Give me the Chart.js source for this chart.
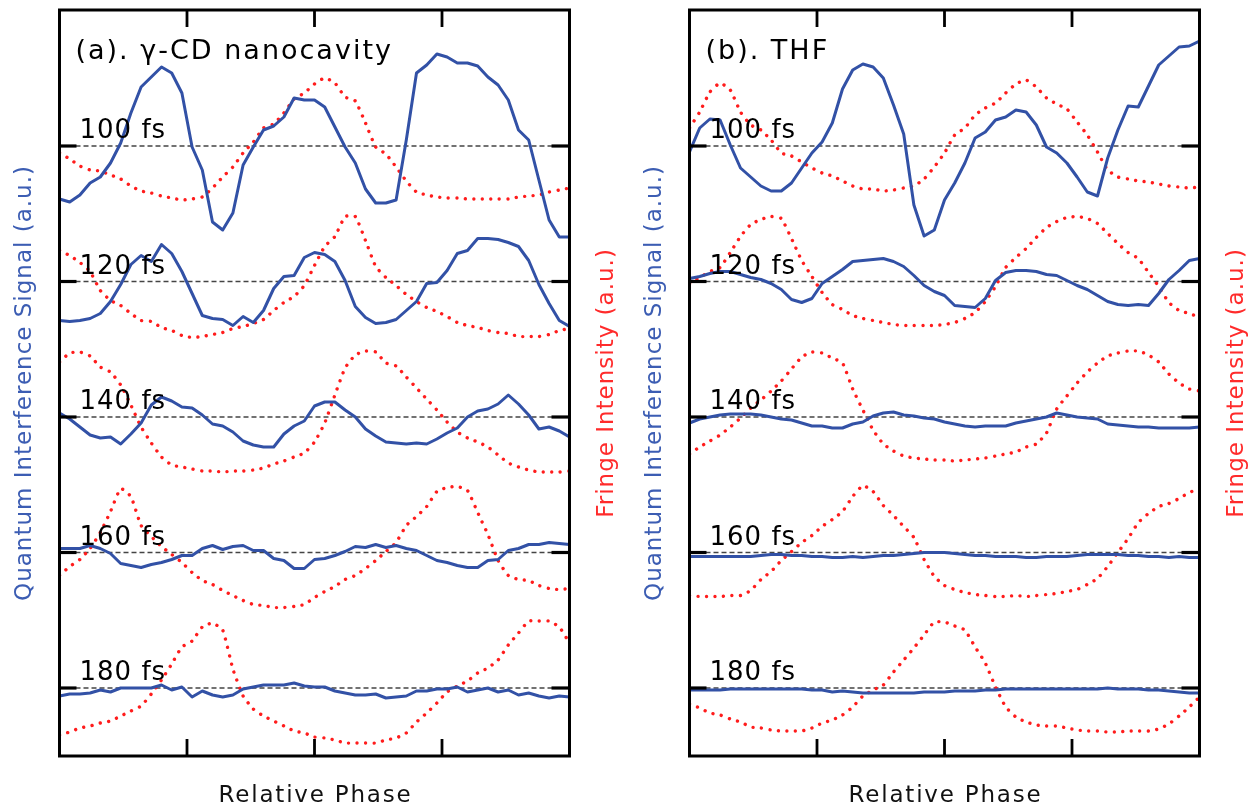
<!DOCTYPE html>
<html><head><meta charset="utf-8">
<script src="https://cdn.jsdelivr.net/npm/chart.js@4.4.1/dist/chart.umd.min.js"></script>
<style>
html,body{margin:0;padding:0;background:#fff;width:1260px;height:809px;overflow:hidden}
canvas{position:absolute;top:0}
#cA{left:0}
#cB{left:630px}
</style></head><body>
<canvas id="cA" width="630" height="809"></canvas>
<canvas id="cB" width="630" height="809"></canvas>
<script>
// Relative phase grid (arbitrary units, 0..100)
const phase = [0,2,4,6,8,10,12,14,16,18,20,22,24,26,28,30,32,34,36,38,40,42,44,46,48,50,52,54,56,58,60,62,64,66,68,70,72,74,76,78,80,82,84,86,88,90,92,94,96,98,100];
const delays = ['100 fs','120 fs','140 fs','160 fs','180 fs'];
// vertical offset of each delay trace (a.u.)
const baseLevels = [610, 474.5, 339, 203.5, 68];
const phaseTicks = [25, 50, 75];

// (a) gamma-CD nanocavity: quantum interference signal (blue) and fringe intensity (red), deviation from baseline
const cdBlue100 = [-53,-56,-49,-37,-31,-17,3,33,59,69,79,73,53,-1,-24,-76,-84,-67,-19,-1,16,20,29,48,46,46,39,19,-1,-17,-43,-57,-57,-54,6,73,81,92,89,83,83,80,69,61,46,16,6,-34,-74,-91,-91];
const cdRed100 = [-7,-13,-20,-24,-25,-29,-33,-40,-45,-47,-50,-52,-54,-53,-51,-42,-31,-21,-7,4,18,22,33,47,53,62,68,63,49,45,23,-1,-8,-21,-35,-46,-49,-51,-52,-52,-53,-53,-53,-53,-53,-51,-50,-49,-46,-44,-42];
const cdBlue120 = [-39,-40,-39,-37,-32,-20,-3,17,26,20,37,28,10,-12,-34,-37,-38,-44,-35,-41,-29,-7,5,6,24,29,27,20,1,-25,-36,-42,-41,-38,-29,-20,-2,-1,11,28,31,43,43,42,39,35,21,-3,-22,-39,-45];
const cdRed120 = [31,26,19,10,-9,-19,-24,-32,-39,-40,-46,-49,-54,-56,-55,-53,-51,-47,-45,-42,-38,-29,-21,-15,-4,16,35,45,65,65,41,15,4,-4,-13,-20,-26,-30,-35,-41,-44,-46,-49,-51,-52,-55,-55,-55,-53,-49,-47];
const cdBlue140 = [4,-2,-10,-18,-21,-20,-27,-17,-6,12,20,16,10,9,2,-7,-9,-15,-24,-28,-30,-30,-17,-9,-4,11,15,15,7,0,-12,-19,-25,-26,-27,-26,-27,-22,-16,-11,0,6,8,13,22,13,2,-12,-10,-14,-20];
const cdRed140 = [55,64,65,61,50,45,32,12,-10,-26,-40,-48,-50,-52,-54,-54,-55,-54,-54,-53,-51,-47,-44,-40,-36,-25,-6,22,49,62,66,65,54,51,40,29,18,7,-5,-15,-21,-25,-30,-38,-46,-50,-53,-55,-55,-55,-54];
const cdBlue160 = [4,4,4,7,4,-1,-11,-13,-15,-12,-10,-7,-3,-3,4,7,3,6,7,2,2,-6,-8,-16,-16,-7,-6,-3,1,6,5,8,5,7,4,2,-3,-8,-10,-13,-15,-15,-8,-7,2,4,8,8,10,9,8];
const cdRed160 = [-23,-14,-7,4,20,41,64,56,27,16,6,-2,-10,-20,-28,-32,-38,-43,-48,-52,-53,-55,-55,-54,-52,-45,-39,-34,-27,-23,-16,-8,1,10,27,36,46,61,65,66,62,40,18,-8,-23,-27,-28,-33,-36,-37,-36];
const cdBlue180 = [-8,-6,-6,-5,-2,-4,0,0,0,0,3,-2,1,-9,-3,-7,-9,-7,-1,1,3,3,3,5,2,1,1,-3,-5,-7,-7,-6,-10,-9,-8,-3,-3,-1,-1,1,-4,-2,0,-4,-2,-7,-5,-8,-10,-8,-9];
const cdRed180 = [-47,-44,-40,-38,-35,-33,-28,-23,-18,-6,8,24,41,47,61,65,58,19,-8,-21,-28,-33,-38,-43,-45,-49,-50,-52,-55,-55,-55,-55,-52,-50,-45,-34,-25,-15,-4,2,7,15,20,28,43,55,67,67,67,61,45];

// (b) THF
const thfBlue100 = [-6,18,27,26,1,-22,-31,-40,-45,-45,-37,-22,-7,4,23,57,76,82,79,68,41,12,-59,-90,-84,-54,-37,-17,8,14,26,29,36,34,21,-1,-7,-17,-31,-46,-50,-12,16,40,39,60,81,90,99,100,105];
const thfRed100 = [18,34,54,63,56,34,21,16,6,-7,-10,-16,-22,-27,-30,-35,-40,-43,-43,-45,-44,-42,-40,-33,-21,-7,11,18,31,38,43,53,62,66,59,48,42,37,24,11,-6,-24,-31,-33,-35,-36,-38,-40,-41,-42,-41];
const thfBlue120 = [3,5,8,10,10,7,4,2,-2,-8,-18,-21,-17,-2,5,12,20,21,22,23,20,15,6,-4,-10,-14,-24,-25,-26,-17,1,9,11,11,10,7,6,1,-4,-8,-14,-20,-23,-24,-23,-24,-12,2,11,21,23];
const thfRed120 = [-2,4,10,14,29,45,57,62,65,63,43,21,5,-11,-23,-28,-34,-37,-39,-41,-43,-44,-44,-44,-44,-43,-41,-37,-31,-20,-5,14,24,33,44,54,60,64,65,63,58,48,38,29,23,9,-5,-21,-29,-32,-36];
const thfBlue140 = [-6,-2,0,2,3,3,3,2,0,-2,-3,-6,-9,-9,-11,-11,-7,-5,1,4,5,2,1,-1,-2,-5,-7,-9,-10,-9,-9,-9,-6,-4,-2,0,4,2,0,-1,-2,-7,-8,-9,-10,-10,-11,-11,-11,-11,-10];
const thfRed140 = [-37,-30,-24,-18,-10,-1,9,17,26,36,48,60,65,64,59,54,28,7,-13,-27,-34,-39,-41,-42,-43,-43,-44,-43,-42,-41,-39,-37,-35,-30,-27,-16,8,21,34,45,54,61,64,66,66,62,55,43,34,28,26];
const thfBlue160 = [-4,-4,-4,-4,-4,-4,-4,-3,-2,-2,-3,-3,-4,-4,-5,-5,-4,-5,-4,-3,-3,-2,-1,0,0,0,-1,-2,-3,-3,-4,-4,-4,-5,-5,-4,-4,-4,-3,-2,-2,-2,-2,-3,-3,-4,-4,-5,-4,-5,-5];
const thfRed160 = [-43,-44,-44,-44,-43,-43,-38,-27,-19,-8,1,10,17,26,33,41,56,67,61,47,37,26,15,-7,-24,-33,-37,-40,-42,-43,-44,-44,-43,-44,-43,-42,-41,-39,-37,-32,-26,-14,0,14,30,39,46,49,54,60,64];
const thfBlue180 = [-2,-2,-2,-2,-1,-1,-1,-1,-1,-1,-1,-1,-2,-2,-4,-3,-4,-5,-5,-5,-5,-5,-5,-4,-4,-4,-3,-3,-3,-2,-2,-1,-1,-1,-1,-1,-1,-1,-1,-1,-1,0,-1,-1,-1,-2,-2,-3,-4,-5,-5];
const thfRed180 = [-16,-20,-25,-27,-31,-34,-39,-40,-42,-43,-43,-43,-40,-35,-32,-27,-19,-8,-2,3,16,28,40,53,66,66,62,58,41,25,1,-19,-29,-34,-37,-38,-38,-40,-42,-43,-43,-44,-44,-43,-43,-43,-41,-36,-28,-19,-9];

const BLUE = '#3251a6';
const RED = '#ff1c1c';

function buildDatasets(blues, reds) {
  const ds = [];
  baseLevels.forEach((b, i) => {
    ds.push({
      data: [{x: phase[0], y: b}, {x: phase[phase.length - 1], y: b}],
      borderColor: '#444', borderWidth: 1.4, borderDash: [5, 3],
      pointRadius: 0, order: 3
    });
    ds.push({
      data: phase.map((p, k) => ({x: p, y: b + reds[i][k]})),
      borderColor: RED, borderWidth: 3.4, borderDash: [0.01, 8.5], borderCapStyle: 'round',
      pointRadius: 0, tension: 0.15, order: 2
    });
    ds.push({
      data: phase.map((p, k) => ({x: p, y: b + blues[i][k]})),
      borderColor: BLUE, borderWidth: 3, borderJoinStyle: 'round',
      pointRadius: 0, tension: 0, order: 1
    });
  });
  return ds;
}

function decorPlugin(panelTitle) {
  return {
    id: 'decor',
    afterDatasetsDraw(chart) {
      const {ctx, chartArea: a, scales: {x, y}} = chart;
      ctx.save();
      const seg = (x1, y1, x2, y2) => { ctx.beginPath(); ctx.moveTo(x1, y1); ctx.lineTo(x2, y2); ctx.stroke(); };
      ctx.strokeStyle = '#000';
      ctx.lineCap = 'butt';
      ctx.lineWidth = 2.8;
      phaseTicks.forEach(v => {
        const px = x.getPixelForValue(v);
        seg(px, a.bottom, px, a.bottom - 17);
        seg(px, a.top, px, a.top + 17);
      });
      ctx.lineWidth = 3.2;
      baseLevels.forEach(v => {
        const py = y.getPixelForValue(v);
        seg(a.left, py, a.left + 17, py);
        seg(a.right, py, a.right - 18, py);
      });
      ctx.lineWidth = 3;
      ctx.strokeRect(a.left, a.top, a.right - a.left, a.bottom - a.top);

      ctx.fillStyle = '#000';
      ctx.textAlign = 'left';
      ctx.textBaseline = 'alphabetic';
      ctx.font = '27px "DejaVu Sans"';
      ctx.letterSpacing = '2px';
      ctx.fillText(panelTitle, a.left + 16, a.top + 49);

      ctx.font = '26px "DejaVu Sans"';
      ctx.letterSpacing = '1px';
      baseLevels.forEach((v, i) => {
        ctx.fillText(delays[i], a.left + 20, y.getPixelForValue(v) - 8);
      });

      ctx.font = '23px "DejaVu Sans"';
      ctx.letterSpacing = '1.8px';
      ctx.textAlign = 'center';
      ctx.fillStyle = '#111';
      ctx.fillText('Relative Phase', (a.left + a.right) / 2 + 1, 802);

      const cy = (a.top + a.bottom) / 2;
      ctx.letterSpacing = '1px';
      ctx.textBaseline = 'middle';
      ctx.save();
      ctx.translate(a.left - 34, cy);
      ctx.rotate(-Math.PI / 2);
      ctx.fillStyle = '#3c5db3';
      ctx.fillText('Quantum Interference Signal (a.u.)', 0, 0);
      ctx.restore();
      ctx.save();
      ctx.translate(a.right + 38, cy);
      ctx.rotate(-Math.PI / 2);
      ctx.fillStyle = '#ff2b2b';
      ctx.fillText('Fringe Intensity (a.u.)', 0, 0);
      ctx.restore();
      ctx.restore();
    }
  };
}

function makeChart(id, title, blues, reds) {
  return new Chart(document.getElementById(id), {
    type: 'line',
    data: {datasets: buildDatasets(blues, reds)},
    options: {
      responsive: false,
      devicePixelRatio: 1,
      animation: false,
      events: [],
      layout: {padding: {left: 59.5, right: 60.5, top: 10, bottom: 53}},
      plugins: {legend: {display: false}, tooltip: {enabled: false}},
      scales: {
        x: {type: 'linear', min: 0, max: 100, display: false},
        y: {type: 'linear', min: 0, max: 746, display: false}
      }
    },
    plugins: [decorPlugin(title)]
  });
}

makeChart('cA', '(a). \u03b3-CD nanocavity',
  [cdBlue100, cdBlue120, cdBlue140, cdBlue160, cdBlue180],
  [cdRed100, cdRed120, cdRed140, cdRed160, cdRed180]);
makeChart('cB', '(b). THF',
  [thfBlue100, thfBlue120, thfBlue140, thfBlue160, thfBlue180],
  [thfRed100, thfRed120, thfRed140, thfRed160, thfRed180]);
</script>
</body></html>
